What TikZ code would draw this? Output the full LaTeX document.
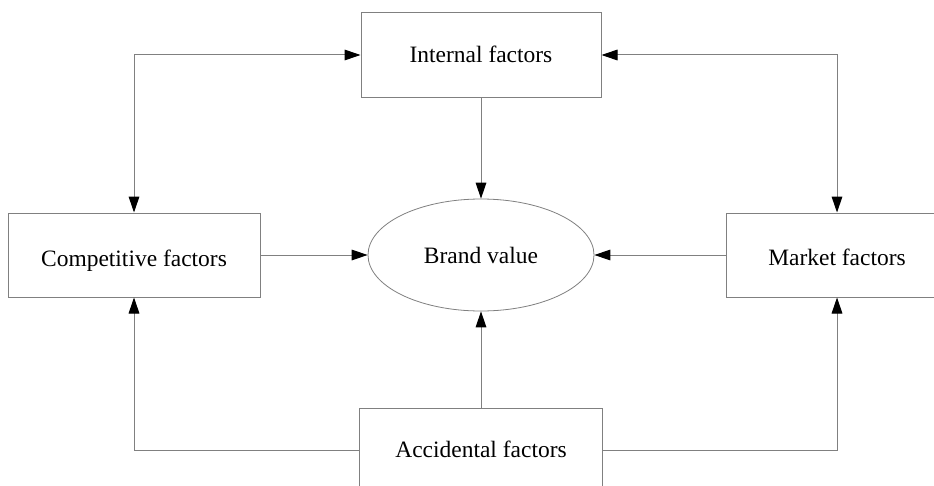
\documentclass[tikz,border=0pt]{standalone}
\usepackage{fontspec}
\setmainfont{Liberation Serif}
\usetikzlibrary{arrows.meta,shapes.geometric}
\definecolor{edgegrey}{HTML}{808080}
\tikzset{
  tipshape/.tip={Triangle[length=12pt,width=8pt,color=black,fill=black]},
  factor/.style={draw=edgegrey, line width=0.75pt, rectangle, inner sep=0pt,
    minimum height=63pt, text depth=0pt, font=\fontsize{17.6}{20}\selectfont},
  core/.style={draw=edgegrey, line width=0.6pt, ellipse, inner sep=0pt,
    minimum width=169.5pt, minimum height=84pt, text depth=0pt,
    font=\fontsize{17.6}{20}\selectfont},
  link/.style={draw=edgegrey, line width=0.75pt, -tipshape},
  twoway/.style={draw=edgegrey, line width=0.75pt, tipshape-tipshape}
}
\begin{document}
\begin{tikzpicture}[x=0.75pt, y=-0.75pt]
  \useasboundingbox (0,0) rectangle (934,485);
  \clip (0,0) rectangle (934,485);
  \fill[white] (0,0) rectangle (934,485);

  % the text height sets where each label's baseline sits in its box
  \node[factor, minimum width=180pt, text height=11.5pt] (int) at (481,55) {Internal factors};
  \node[factor, minimum width=189pt, text height=17pt] (comp) at (134,255) {Competitive factors};
  \node[factor, minimum width=166.5pt, text height=15pt] (mkt) at (837,255) {Market factors};
  \node[factor, minimum width=182.25pt, text height=10.5pt] (acc) at (481,450) {Accidental factors};
  \node[core, text height=12pt] (brand) at (481,255) {Brand value};

  \draw[twoway] (comp.north) |- (int.west);
  \draw[twoway] (mkt.north) |- (int.east);
  \draw[link] (int.south) -- (brand.north);
  \draw[link] (comp.east) -- (brand.west);
  \draw[link] (mkt.west) -- (brand.east);
  \draw[link] (acc.north) -- (brand.south);
  \draw[link] (acc.west) -| (comp.south);
  \draw[link] (acc.east) -| (mkt.south);
\end{tikzpicture}
\end{document}
